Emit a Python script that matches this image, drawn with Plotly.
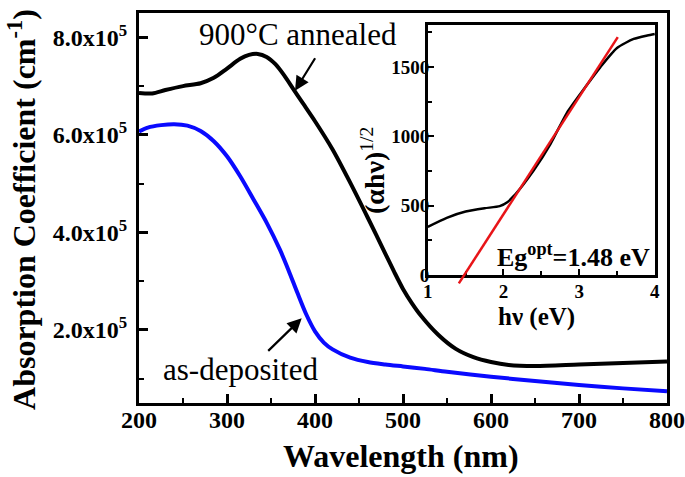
import plotly.graph_objects as go

# ---------------- data ----------------
wl_annealed = [200, 215, 230, 250, 270, 285, 300, 315, 325, 335, 345, 355, 365, 375, 385,
               400, 420, 440, 460, 480, 490, 500, 510, 520, 540, 560, 580, 600, 620, 650, 700, 750, 800]
abs_annealed = [6.86, 6.85, 6.92, 7.00, 7.06, 7.17, 7.36, 7.56, 7.64, 7.66, 7.60, 7.45, 7.22, 6.95, 6.68,
                6.28, 5.70, 5.02, 4.30, 3.56, 3.19, 2.84, 2.55, 2.30, 1.90, 1.61, 1.44, 1.34, 1.28, 1.26,
                1.29, 1.32, 1.35]

wl_asdep = [200, 210, 225, 240, 255, 270, 285, 300, 315, 330, 345, 360, 370, 380, 390, 400,
            410, 420, 440, 460, 480, 500, 525, 550, 600, 650, 700, 750, 800]
abs_asdep = [6.07, 6.15, 6.20, 6.22, 6.19, 6.08, 5.87, 5.56, 5.15, 4.68, 4.20, 3.65, 3.22, 2.76, 2.32, 1.97,
             1.74, 1.60, 1.43, 1.34, 1.29, 1.25, 1.20, 1.14, 1.04, 0.95, 0.87, 0.80, 0.74]
abs_unit = 1e5

hv = [1.00, 1.25, 1.50, 1.75, 1.95, 2.05, 2.13, 2.25, 2.40, 2.62, 2.84, 3.06, 3.28, 3.50, 3.72, 3.90, 4.00]
tauc = [348, 413, 458, 482, 497, 525, 567, 645, 755, 945, 1172, 1340, 1500, 1638, 1703, 1728, 1739]

fit_hv = [1.41, 3.51]
fit_val = [-60, 1716]

x_ticks = [200, 300, 400, 500, 600, 700, 800]
y_ticks = [2e5, 4e5, 6e5, 8e5]
y_ticktext = ["2.0x10<sup>5</sup>", "4.0x10<sup>5</sup>", "6.0x10<sup>5</sup>", "8.0x10<sup>5</sup>"]
inset_x_ticks = [1, 2, 3, 4]
inset_y_ticks = [0, 500, 1000, 1500]

# ---------------- figure ----------------
FONT = "Liberation Serif"
fig = go.Figure()
fig.add_trace(go.Scatter(x=wl_annealed, y=[v * abs_unit for v in abs_annealed], mode="lines",
                         line=dict(color="black", width=4, shape="spline", smoothing=0.8),
                         xaxis="x", yaxis="y", hoverinfo="skip"))
fig.add_trace(go.Scatter(x=wl_asdep, y=[v * abs_unit for v in abs_asdep], mode="lines",
                         line=dict(color="#0a0aff", width=4, shape="spline", smoothing=0.8),
                         xaxis="x", yaxis="y", hoverinfo="skip"))
fig.add_trace(go.Scatter(x=hv, y=tauc, mode="lines",
                         line=dict(color="black", width=2.5, shape="spline", smoothing=0.6),
                         xaxis="x2", yaxis="y2", hoverinfo="skip"))
fig.add_trace(go.Scatter(x=fit_hv, y=fit_val, mode="lines",
                         line=dict(color="#e81418", width=2.5),
                         xaxis="x3", yaxis="y3", hoverinfo="skip"))

tickfont_main = dict(family=FONT, size=24, color="black", weight="bold")
tickfont_y = dict(family=FONT, size=24, color="black", weight="bold")
tickfont_inset = dict(family=FONT, size=19, color="black", weight="bold")

ax_common = dict(showgrid=False, zeroline=False, showline=True, linecolor="black", mirror=True,
                 ticks="inside", tickcolor="black", automargin=False)

inset_x_dom = [0.547, 0.977]
inset_y_dom = [0.328, 0.969]
inset_y_range = [0, 1803]
ext_bottom = 0.290
ext_units = (inset_y_dom[0] - ext_bottom) / (inset_y_dom[1] - inset_y_dom[0]) * (inset_y_range[1] - inset_y_range[0])

fig.update_layout(
    width=685, height=477,
    margin=dict(l=139, r=18, t=13, b=74, pad=0, autoexpand=False),
    paper_bgcolor="white", plot_bgcolor="rgba(0,0,0,0)",
    showlegend=False,
    font=dict(family=FONT, color="black"),
    xaxis=dict(**ax_common, domain=[0, 1], range=[200, 800], tickmode="array", tickvals=x_ticks,
               ticklen=9, tickwidth=2.5, linewidth=3, tickfont=tickfont_main, ticklabelstandoff=-7,
               minor=dict(ticks="inside", ticklen=5, tickwidth=2, dtick=50, tick0=200, tickcolor="black")),
    yaxis=dict(**ax_common, domain=[0, 1], range=[0.5e5, 8.5e5], tickmode="array", tickvals=y_ticks,
               ticktext=y_ticktext, ticklen=9, tickwidth=2.5, linewidth=3, tickfont=tickfont_y,
               ticklabelstandoff=4,
               minor=dict(ticks="inside", ticklen=5, tickwidth=2, dtick=1e5, tick0=0, tickcolor="black")),
    xaxis2=dict(**ax_common, domain=inset_x_dom, anchor="y2", range=[1, 4], tickmode="array",
                tickvals=inset_x_ticks, ticklen=6, tickwidth=2, linewidth=2.5, tickfont=tickfont_inset,
                ticklabelstandoff=-3,
                minor=dict(ticks="inside", ticklen=4, tickwidth=1.5, dtick=0.5, tick0=1, tickcolor="black")),
    yaxis2=dict(**ax_common, domain=inset_y_dom, anchor="x2", range=inset_y_range, tickmode="array",
                tickvals=inset_y_ticks, ticklen=6, tickwidth=2, linewidth=2.5, tickfont=tickfont_inset,
                ticklabelstandoff=-8,
                minor=dict(ticks="inside", ticklen=4, tickwidth=1.5, dtick=250, tick0=0, tickcolor="black")),
    xaxis3=dict(domain=inset_x_dom, anchor="y3", range=[1, 4], visible=False),
    yaxis3=dict(domain=[ext_bottom, inset_y_dom[1]], anchor="x3",
                range=[inset_y_range[0] - ext_units, inset_y_range[1]], visible=False),
)

ann = []
# axis titles
ann.append(dict(text="<b>Absorption Coefficient (cm<sup>-1</sup>)</b>", xref="paper", yref="paper",
                x=-0.222, y=0.497, textangle=-90, showarrow=False, xanchor="center", yanchor="middle",
                font=dict(family=FONT, size=32, color="black")))
ann.append(dict(text="<b>Wavelength (nm)</b>", xref="paper", yref="paper", x=0.496, y=-0.136,
                showarrow=False, xanchor="center", yanchor="middle",
                font=dict(family=FONT, size=32, color="black")))
# inset titles
ann.append(dict(text="<b>hν (eV)</b>", xref="paper", yref="paper", x=0.752, y=0.221,
                showarrow=False, xanchor="center", yanchor="middle",
                font=dict(family=FONT, size=25, color="black")))
ann.append(dict(text="<b>(αhν)</b><sup>1/2</sup>", xref="paper", yref="paper", x=0.443, y=0.597,
                textangle=-90, showarrow=False, xanchor="center", yanchor="middle",
                font=dict(family=FONT, size=28, color="black")))
ann.append(dict(text="<b>Eg<sup>opt</sup>=1.48 eV</b>", xref="paper", yref="paper", x=0.822, y=0.377,
                showarrow=False, xanchor="center", yanchor="middle",
                font=dict(family=FONT, size=26, color="black")))
# curve labels
ann.append(dict(text="900°C annealed", xref="paper", yref="paper", x=0.302, y=0.944,
                showarrow=False, xanchor="center", yanchor="middle",
                font=dict(family=FONT, size=31, color="black")))
ann.append(dict(text="as-deposited", xref="paper", yref="paper", x=0.192, y=0.086,
                showarrow=False, xanchor="center", yanchor="middle",
                font=dict(family=FONT, size=31, color="black")))
# arrows
ann.append(dict(text="", xref="x", yref="y", x=377.3, y=6.906e5, ax=21, ay=-34,
                showarrow=True, arrowhead=2, arrowsize=1.3, arrowwidth=2.2, arrowcolor="black",
                standoff=0))
ann.append(dict(text="", xref="x", yref="y", x=384.9, y=2.237e5, ax=-35, ay=34,
                showarrow=True, arrowhead=2, arrowsize=1.3, arrowwidth=2.2, arrowcolor="black",
                standoff=0))
fig.update_layout(annotations=ann)

fig.write_html("out.html", config={"displayModeBar": False},
               post_script="document.body.style.margin='0';")
